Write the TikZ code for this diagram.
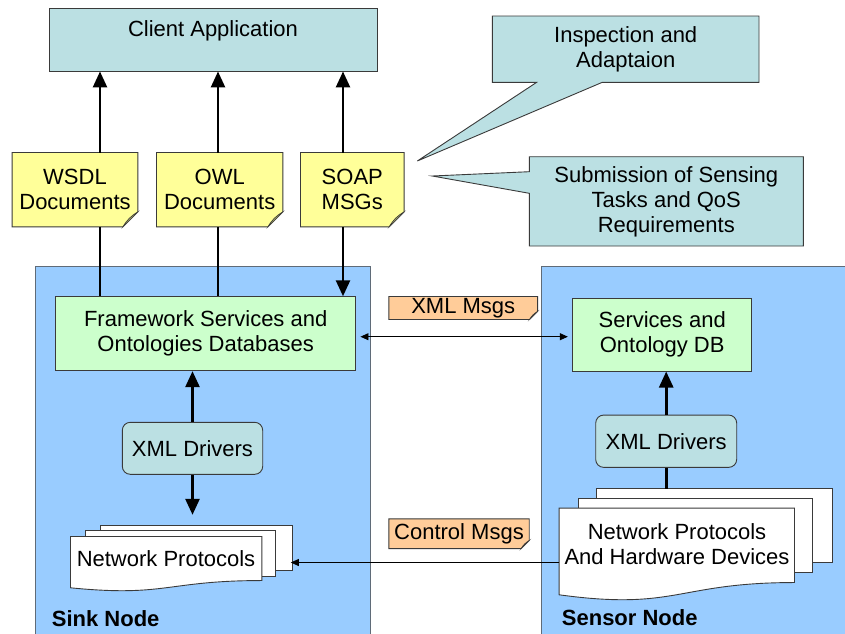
\documentclass[tikz,border=0pt]{standalone}
\usepackage{fontspec}
\setmainfont{Liberation Sans}
\usetikzlibrary{arrows.meta,calc}
\definecolor{cteal}{HTML}{BBE0E3}
\definecolor{cyel}{HTML}{FFFF99}
\definecolor{cgreen}{HTML}{CCFFCC}
\definecolor{cblue}{HTML}{99CCFF}
\definecolor{corange}{HTML}{FFCC99}
\definecolor{cborder}{HTML}{3A3A3A}
\definecolor{cpanel}{HTML}{5F6B78}
\pgfdeclarelayer{bg}
\pgfsetlayers{bg,main}
\newcommand\drawnote[3]{%
\begin{pgfonlayer}{bg}
\draw[outl, fill=#2] (#1.north west) -- (#1.north east) -- ([yshift=#3]#1.south east) -- ([xshift=-#3]#1.south east) -- (#1.south west) -- cycle;
\draw[outl, fill=#2!72!black, line width=0.6pt] ([yshift=#3]#1.south east) .. controls ([xshift=-0.45*#3, yshift=0.75*#3]#1.south east) and ([xshift=-0.75*#3, yshift=0.45*#3]#1.south east) .. ([xshift=-#3]#1.south east) -- cycle;
\end{pgfonlayer}}
\newcommand\wavedoc[2]{%
\begin{pgfonlayer}{bg}
\draw[outl, fill=white] (#1.north west) -- (#1.north east) -- ($(#1.north east)+(0,0.802*#2)$) .. controls ($(#1.north)+(0,0.802*#2)$) and ($(#1.north)+(0,1.1075*#2)$) .. ($(#1.north west)+(0,0.934*#2)$) -- cycle;
\end{pgfonlayer}}
\newcommand\sheet[1]{%
\begin{pgfonlayer}{bg}
\draw[outl, fill=white] (#1.north west) rectangle (#1.south east);
\end{pgfonlayer}}
\begin{document}
\begin{tikzpicture}[x=1pt,y=-1pt,
  every node/.style={font=\fontsize{22}{25}\selectfont, inner sep=0pt},
  box/.style={draw=cborder, line width=0.9pt, align=center, anchor=center},
  ghost/.style={anchor=center, align=center},
  bigarr/.style={line width=2.6pt, -{Triangle[width=14pt,length=16pt]}},
  bigline/.style={line width=2.6pt},
  smallarr/.style={line width=0.9pt, -{Triangle[width=7pt,length=8pt]}},
  outl/.style={draw=cborder, line width=0.9pt},
  lbl/.style={anchor=base west, font=\fontsize{22}{25}\selectfont\bfseries},
]
\useasboundingbox (0,0) rectangle (845,633);

% panels
\begin{pgfonlayer}{bg}
\draw[fill=cblue, draw=cpanel, line width=0.9pt] (35,266.7) rectangle (370,645);
\draw[fill=cblue, draw=cpanel, line width=0.9pt] (541.7,266.7) rectangle (860,645);
% callouts
\draw[outl, fill=cteal] (492.3,16) -- (759,16) -- (759,82.3) -- (602.3,82.3) -- (417.3,161) -- (536.7,82.3) -- (492.3,82.3) -- cycle;
\draw[outl, fill=cteal] (529.3,156.7) -- (803.3,156.7) -- (803.3,246) -- (529.3,246) -- (529.3,193.3) -- (432.3,176) -- (529.3,171.7) -- cycle;
\end{pgfonlayer}

\node[align=center] (insp) at (625.7,49.8) {Inspection and\\Adaptaion};
\node[align=center] (subm) at (666.3,202.3) {Submission of Sensing\\Tasks and QoS\\Requirements};

% client
\node[box, fill=cteal, minimum width=328pt, minimum height=63pt, text height=28pt, text depth=35pt] (client) at (213,39.5) {Client Application};

% documents
\node[ghost, minimum width=125.4pt, minimum height=74pt] (wsdl) at (75,189.7) {WSDL\\Documents};
\node[ghost, minimum width=126pt, minimum height=74pt] (owl) at (219.7,189.7) {OWL\\Documents};
\node[ghost, minimum width=103.3pt, minimum height=74pt] (soap) at (352.3,189.7) {SOAP\\MSGs};
\drawnote{wsdl}{cyel}{15pt}
\drawnote{owl}{cyel}{15pt}
\drawnote{soap}{cyel}{15pt}

% green boxes
\node[box, fill=cgreen, minimum width=300pt, minimum height=74pt] (frame) at (205.7,333.7) {Framework Services and\\Ontologies Databases};
\node[box, fill=cgreen, minimum width=179pt, minimum height=72.7pt] (serv) at (662.2,334.7) {Services and\\Ontology DB};

% drivers
\node[box, fill=cteal, rounded corners=8pt, minimum width=140.4pt, minimum height=52pt] (sdrv) at (192.5,448.3) {XML Drivers};
\node[box, fill=cteal, rounded corners=8pt, minimum width=141pt, minimum height=52.3pt] (rdrv) at (666.2,441.2) {XML Drivers};

% message notes
\node[ghost, minimum width=148.3pt, minimum height=22.6pt] (xmlmsg) at (463.2,308) {XML Msgs};
\node[ghost, minimum width=140pt, minimum height=29.3pt] (ctlmsg) at (459,533.7) {Control Msgs};
\drawnote{xmlmsg}{corange}{8pt}
\drawnote{ctlmsg}{corange}{8pt}

% sink sheets
\node[ghost, minimum width=191.3pt, minimum height=44.3pt] (sinkB) at (196.65,547.85) {};
\node[ghost, minimum width=189.7pt, minimum height=45pt] (sinkM) at (180.85,553.5) {};
\node[ghost, minimum width=191pt, minimum height=54.9pt] (sinkF) at (166.2,564.15) {};
\sheet{sinkB}
\sheet{sinkM}
\wavedoc{sinkF}{54.9}
\node (sinknet) at (166,559) {Network Protocols};

% sensor sheets
\node[ghost, minimum width=235.6pt, minimum height=73.7pt] (senB) at (714.5,525.85) {};
\node[ghost, minimum width=233.3pt, minimum height=73.3pt] (senM) at (695.65,535.65) {};
\node[ghost, minimum width=235pt, minimum height=92.8pt] (senF) at (676.8,554.7) {};
\sheet{senB}
\sheet{senM}
\wavedoc{senF}{92.8}
\node[align=center] (sennet) at (677,544.5) {Network Protocols\\And Hardware Devices};

% connectors
\draw[bigarr] ([xshift=25pt]wsdl.north) -- ([xshift=25pt]wsdl.north |- client.south);
\draw[bigarr] ([xshift=-1.7pt]owl.north) -- ([xshift=-1.7pt]owl.north |- client.south);
\draw[bigarr] ([xshift=-9.3pt]soap.north) -- ([xshift=-9.3pt]soap.north |- client.south);
\draw[bigline] ([xshift=25pt]wsdl.south) -- ([xshift=25pt]wsdl.south |- frame.north);
\draw[bigline] ([xshift=-1.7pt]owl.south) -- ([xshift=-1.7pt]owl.south |- frame.north);
\draw[bigarr] ([xshift=-9.3pt]soap.south) -- ([xshift=-9.3pt]soap.south |- frame.north);

\draw[bigarr] (sdrv.north) -- (sdrv.north |- frame.south);
\draw[bigarr] (sdrv.south) -- ($(sdrv.south |- sinkB.north)+(0,-10.7)$);
\draw[bigarr] (rdrv.north) -- (rdrv.north |- serv.south);
\draw[bigline] (rdrv.south) -- (rdrv.south |- senB.north);

\draw[line width=0.9pt, {Triangle[width=7pt,length=8pt]}-{Triangle[width=7pt,length=8pt]}, shorten <=4.3pt, shorten >=4.4pt] (frame.east |- 0,336.7) -- (serv.west |- 0,336.7);
\draw[smallarr, shorten >=-1.7pt] (senF.west |- 0,562.5) -- (sinkB.east |- 0,562.5);

% panel labels
\node[lbl] (sinklbl) at (51.7,626.7) {Sink Node};
\node[lbl] (senlbl) at (561.7,625) {Sensor Node};
\end{tikzpicture}
\end{document}
